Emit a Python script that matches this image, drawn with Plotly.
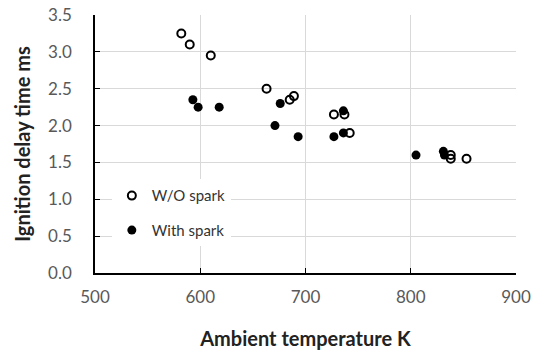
import plotly.graph_objects as go

wo_x = [582, 590, 610, 663, 685, 689, 727, 737, 742, 838, 838, 853]
wo_y = [3.25, 3.10, 2.95, 2.50, 2.35, 2.40, 2.15, 2.15, 1.90, 1.60, 1.55, 1.55]
ws_x = [593, 598, 618, 671, 676, 693, 727, 736, 736, 805, 831, 832]
ws_y = [2.35, 2.25, 2.25, 2.00, 2.30, 1.85, 1.85, 1.90, 2.20, 1.60, 1.65, 1.60]

font = "Lato, 'Open Sans', sans-serif"

fig = go.Figure()
fig.add_trace(go.Scatter(x=wo_x, y=wo_y, mode="markers", name="W/O spark",
                         legendgroup="a",
                         marker=dict(symbol="circle-open", size=8, color="black",
                                     line=dict(width=2, color="black"))))
fig.add_trace(go.Scatter(x=ws_x, y=ws_y, mode="markers", name="With spark",
                         legendgroup="b",
                         marker=dict(symbol="circle", size=9, color="black")))

fig.update_layout(
    width=534, height=352,
    margin=dict(l=95, r=18, t=15, b=79),
    paper_bgcolor="white", plot_bgcolor="white",
    font=dict(family=font, size=17, color="#595959"),
    showlegend=True,
    legend=dict(x=0.04, y=0.363, xanchor="left", yanchor="top",
                bgcolor="white", font=dict(size=15, color="#333333"),
                itemwidth=30, tracegroupgap=12, traceorder="grouped"),
    xaxis=dict(range=[500, 900], dtick=100, tick0=500, automargin=False,
               showgrid=True, gridcolor="#d9d9d9", gridwidth=1,
               showline=True, linecolor="black", linewidth=1.5,
               ticks="inside", ticklen=5, tickcolor="black",
               ticklabelstandoff=8,
               zeroline=False,
               title=dict(text="<b>Ambient temperature K</b>",
                          font=dict(size=20, color="#222222"), standoff=26)),
    yaxis=dict(range=[0, 3.5], dtick=0.5, tick0=0, tickformat=".1f", automargin=False,
               showgrid=True, gridcolor="#d9d9d9", gridwidth=1,
               showline=True, linecolor="black", linewidth=1.5,
               ticks="inside", ticklen=5, tickcolor="black",
               ticklabelstandoff=18,
               zeroline=False,
               title=dict(text="<b>Ignition delay time ms</b>",
                          font=dict(size=20, color="#222222"), standoff=12)),
)

fig.write_html("out.html", config={"displayModeBar": False},
               post_script="document.body.style.margin='0';")
